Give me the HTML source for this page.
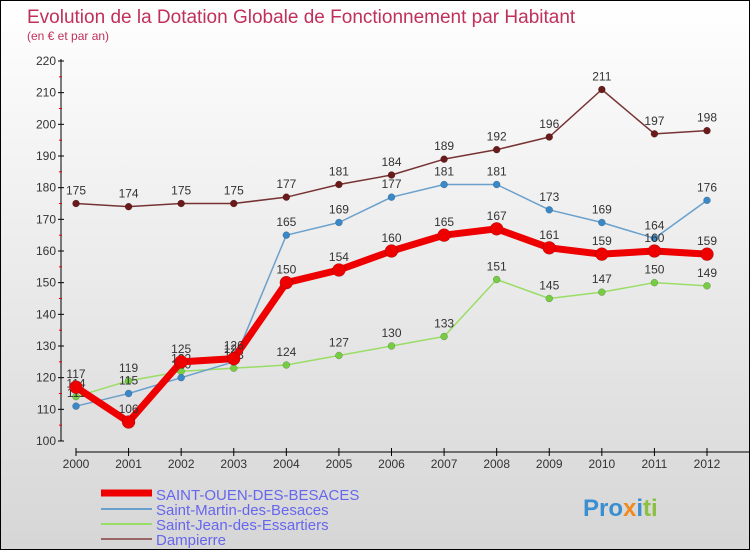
<!DOCTYPE html>
<html><head><meta charset="utf-8"><style>
body{margin:0}
#c{width:748px;height:548px;border:1px solid #000;position:relative;background:linear-gradient(#fff,#d6d6d6);font-family:"Liberation Sans",sans-serif;overflow:hidden}
</style></head><body>
<div id="c">
<svg id="s" width="748" height="548" xmlns="http://www.w3.org/2000/svg" style="position:absolute;left:0;top:0">
<text x="26" y="22" font-size="19" fill="#c0305a">Evolution de la Dotation Globale de Fonctionnement par Habitant</text>
<text x="26" y="39" font-size="12" fill="#c0305a">(en € et par an)</text>
<g id="axes"></g><g id="series"></g>
<g>
<line x1="100" y1="492" x2="151" y2="492" stroke="#e00" stroke-width="7"/>
<text x="155" y="499" font-size="15" fill="#6666ee">SAINT-OUEN-DES-BESACES</text>
<line x1="100" y1="508" x2="151" y2="508" stroke="#6aa0cc" stroke-width="2"/>
<text x="155" y="514" font-size="15" fill="#6666ee">Saint-Martin-des-Besaces</text>
<line x1="100" y1="523" x2="151" y2="523" stroke="#99dd66" stroke-width="2"/>
<text x="155" y="529" font-size="15" fill="#6666ee">Saint-Jean-des-Essartiers</text>
<line x1="100" y1="538" x2="151" y2="538" stroke="#996666" stroke-width="2"/>
<text x="155" y="544" font-size="15" fill="#6666ee">Dampierre</text>
</g>
<text x="582" y="515" font-size="24" font-weight="bold"><tspan fill="#3a8fd0">Pro</tspan><tspan fill="#f08a20">x</tspan><tspan fill="#3a8fd0">i</tspan><tspan fill="#8cc040">ti</tspan></text>
</svg>
</div>
<script>
const years=[2000,2001,2002,2003,2004,2005,2006,2007,2008,2009,2010,2011,2012];
const yTicks=[100,110,120,130,140,150,160,170,180,190,200,210,220];
const saintOuen=[117,106,125,126,150,154,160,165,167,161,159,160,159];
const saintMartin=[111,115,120,125,165,169,177,181,181,173,169,164,176];
const saintJean=[114,119,122,123,124,127,130,133,151,145,147,150,149];
const dampierre=[175,174,175,175,177,181,184,189,192,196,211,197,198];
const NS="http://www.w3.org/2000/svg";
const X=i=>75+i*(706-75)/12;
const Y=v=>440-(v-100)*(380/120);
function mk(p,t,a){const e=document.createElementNS(NS,t);for(const k in a)e.setAttribute(k,a[k]);p.appendChild(e);return e;}
const ax=document.getElementById('axes');
let l=mk(ax,'line',{x1:60,y1:58,x2:60,y2:440,stroke:'#000'});


l=mk(ax,'line',{x1:75,y1:451,x2:748,y2:451,stroke:'#000'});


yTicks.forEach((v,i)=>{
 mk(ax,'line',{x1:57,y1:Y(v),x2:63,y2:Y(v),stroke:'#000'});
 if(i<yTicks.length-1) mk(ax,'line',{x1:58,y1:Y(v+5),x2:61,y2:Y(v+5),stroke:'#e00'});
 const t=mk(ax,'text',{x:55,y:Y(v)+4,'font-size':12,fill:'#333','text-anchor':'end'});t.textContent=v;
 
 
});
years.forEach((y,i)=>{
 mk(ax,'line',{x1:X(i),y1:447,x2:X(i),y2:455,stroke:'#000'});
 const t=mk(ax,'text',{x:X(i),y:467,'font-size':12,fill:'#333','text-anchor':'middle'});t.textContent=y;
 
 
});
const sg=document.getElementById('series');
function draw(data,col,dot,w,r,name){
 const g=mk(sg,'g',{});
 
 
 mk(g,'polyline',{points:data.map((v,i)=>X(i)+','+Y(v)).join(' '),fill:'none',stroke:col,'stroke-width':w,'stroke-linejoin':'round'});
 data.forEach((v,i)=>{
  const c=mk(g,'circle',{cx:X(i),cy:Y(v),r:r,fill:dot,stroke:'rgba(0,0,0,0.3)','stroke-width':0.5});
  
  
  const t=mk(g,'text',{x:X(i),y:Y(v)-9,'font-size':12,fill:'#333','text-anchor':'middle'});t.textContent=v;
  
  
 });
}
draw(dampierre,'#773333','#6a1a1a',1.5,3.5,'dampierre');
draw(saintJean,'#99dd66','#77cc44',1.5,3.5,'saint-jean');
draw(saintMartin,'#6aa0cc','#3a88c8',1.5,3.5,'saint-martin');
draw(saintOuen,'#ee0000','#ee0000',7,6.5,'saint-ouen');
</script>
</body></html>
